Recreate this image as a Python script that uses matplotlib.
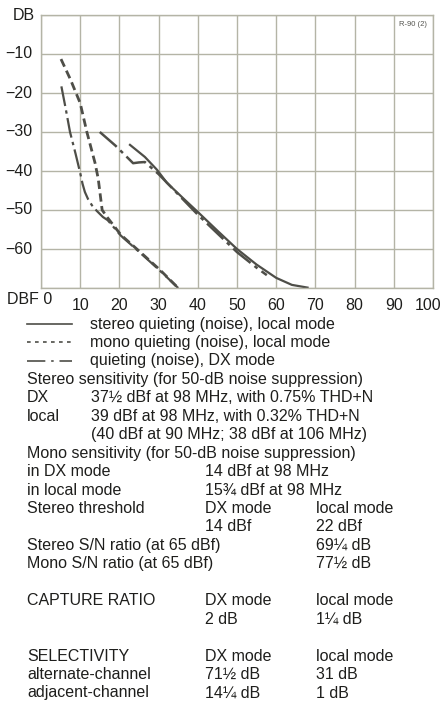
import matplotlib
matplotlib.use("Agg")
import matplotlib.pyplot as plt
from matplotlib.lines import Line2D

plt.rcParams['font.family'] = ['Liberation Sans', 'DejaVu Sans']

# quieting curves (dBf in, dB noise)
mono_local_x = [5.1, 7.5, 10.0, 11.7, 13.8, 14.6, 15.6, 17.0, 20.4, 25.0, 30.4, 35.0]
mono_local_y = [-11.3, -16.5, -22.6, -30.0, -38.0, -42.0, -50.0, -52.0, -56.4, -60.5, -65.4, -70.0]

dx_mono_x = [5.2, 6.3, 7.4, 8.8, 10.0, 10.6, 11.2, 12.0, 13.0, 14.2, 15.8, 17.0, 20.4, 25.0, 30.4, 35.0]
dx_mono_y = [-18.3, -24.0, -30.0, -35.5, -40.5, -43.3, -45.4, -47.2, -48.8, -50.2, -51.8, -52.6, -56.6, -60.7, -65.6, -70.0]

dx_stereo_x = [15.0, 19.0, 22.0, 23.5, 25.0, 26.5, 30.0, 35.0, 40.0, 45.0, 50.0, 55.0, 57.6]
dx_stereo_y = [-30.0, -33.5, -36.5, -38.0, -37.8, -37.7, -40.8, -46.0, -51.2, -56.0, -60.8, -64.8, -66.7]

stereo_local_x = [22.7, 26.5, 29.6, 32.1, 36.7, 40.0, 45.0, 50.0, 55.0, 60.0, 64.0, 68.0]
stereo_local_y = [-33.3, -36.4, -39.7, -43.0, -47.4, -50.5, -55.3, -60.0, -64.0, -67.4, -69.2, -69.9]

x_ticks = [10, 20, 30, 40, 50, 60, 70, 80, 90, 100]
y_ticks = [-10, -20, -30, -40, -50, -60]

legend_labels = ["stereo quieting (noise), local mode",
                 "mono quieting (noise), local mode",
                 "quieting (noise), DX mode"]

# spec rows: (left text, indented text, column 2, column 3); None = blank row
spec_rows = [
    ("Stereo sensitivity (for 50-dB noise suppression)", "", "", ""),
    ("DX", "37½ dBf at 98 MHz, with 0.75% THD+N", "", ""),
    ("local", "39 dBf at 98 MHz, with 0.32% THD+N", "", ""),
    ("", "(40 dBf at 90 MHz; 38 dBf at 106 MHz)", "", ""),
    ("Mono sensitivity (for 50-dB noise suppression)", "", "", ""),
    ("in DX mode", "", "14 dBf at 98 MHz", ""),
    ("in local mode", "", "15¾ dBf at 98 MHz", ""),
    ("Stereo threshold", "", "DX mode", "local mode"),
    ("", "", "14 dBf", "22 dBf"),
    ("Stereo S/N ratio (at 65 dBf)", "", "", "69¼ dB"),
    ("Mono S/N ratio (at 65 dBf)", "", "", "77½ dB"),
    None,
    ("CAPTURE RATIO", "", "DX mode", "local mode"),
    ("", "", "2 dB", "1¼ dB"),
    None,
    ("SELECTIVITY", "", "DX mode", "local mode"),
    ("alternate-channel", "", "71½ dB", "31 dB"),
    ("adjacent-channel", "", "14¼ dB", "1 dB"),
]

W, H = 443, 701
txt = '#1e1e1c'
grid_c = '#b4b4a6'
curve_c = '#4e4e48'
fs = 11.5

fig = plt.figure(figsize=(W / 100, H / 100), dpi=100)
fig.patch.set_facecolor('white')

def fx(px):
    return px / W

def fy(py):
    return 1 - py / H

ax = fig.add_axes([fx(41), fy(288), fx(433) - fx(41), fy(15) - fy(288)])
ax.set_xlim(0, 100)
ax.set_ylim(-70, 0)
ax.set_xticks(range(0, 101, 10))
ax.set_yticks(range(-70, 1, 10))
ax.grid(True, color=grid_c, lw=1.0)
ax.tick_params(length=0, labelbottom=False, labelleft=False)
for s in ax.spines.values():
    s.set_color(grid_c)
    s.set_linewidth(1.0)

ax.plot(mono_local_x, mono_local_y, color=curve_c, lw=2.0, ls=(0, (3, 1.6)))
ax.plot(dx_mono_x, dx_mono_y, color=curve_c, lw=1.6, ls=(0, (9, 2, 1.5, 2)))
ax.plot(dx_stereo_x, dx_stereo_y, color=curve_c, lw=1.8, ls=(0, (9, 2, 1.5, 2)))
ax.plot(stereo_local_x, stereo_local_y, color=curve_c, lw=1.6, ls='-')

# axis labels as in the original print
for v in y_ticks:
    ax.text(-2.2, v, '\u2212' + str(-v), ha='right', va='center', fontsize=fs, color=txt)
for v in x_ticks:
    xpos = v if v < 100 else 98.8
    ax.text(xpos, -72.5, str(v), ha='center', va='top', fontsize=fs, color=txt)
fig.text(fx(13), fy(15), 'DB', ha='left', va='center', fontsize=fs, color=txt)
fig.text(fx(7), fy(300), 'DBF 0', ha='left', va='center', fontsize=fs, color=txt)
fig.text(fx(427), fy(24), 'R-90 (2)', ha='right', va='center', fontsize=5.5, color='#555550')

# legend
row0 = 324
step = 18.45
styles = ['-', (0, (2.2, 2.6)), (0, (11, 3.5, 1.5, 3.5))]
for i, (lab, st) in enumerate(zip(legend_labels, styles)):
    y = fy(row0 + i * step)
    fig.add_artist(Line2D([fx(27), fx(72)], [y, y], color=curve_c, lw=1.2, ls=st))
    fig.text(fx(90), y, lab, ha='left', va='center', fontsize=fs, color=txt)

# spec table
cols = [27, 91, 205, 316]
for j, row in enumerate(spec_rows):
    if row is None:
        continue
    y = fy(row0 + (j + 3) * step)
    for c, t in zip(cols, row):
        if t:
            fig.text(fx(c), y, t, ha='left', va='center', fontsize=fs, color=txt)

fig.savefig('out.png', dpi=100)
